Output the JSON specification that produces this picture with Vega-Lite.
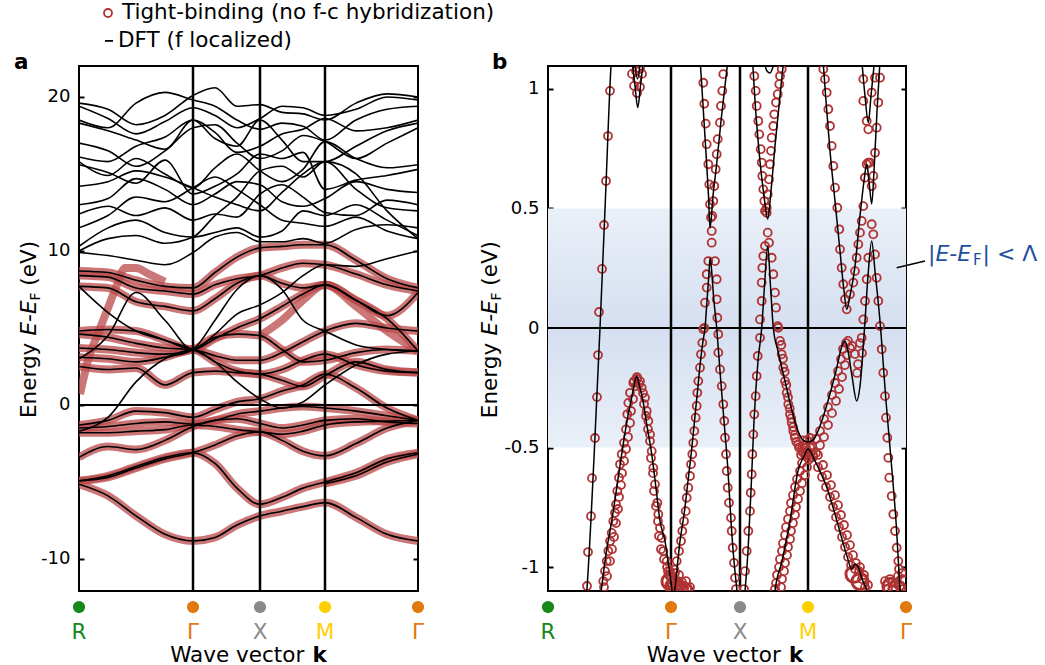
{
"$schema":"https://vega.github.io/schema/vega-lite/v6.json",
"padding":{"left":13,"top":1,"right":0,"bottom":0},
"bounds":"flush",
"spacing":130,
"config":{"font":"DejaVu Sans","view":{"stroke":"black","strokeWidth":2},"axis":{"domain":false,"grid":false,"tickColor":"black","tickWidth":2,"tickSize":-5,"labelFontSize":18,"labelColor":"black","labelPadding":14}},
"datasets":{
"symA":[{"x":0,"lab":"R"},{"x":114,"lab":"Γ"},{"x":181,"lab":"X"},{"x":246,"lab":"M"},{"x":339,"lab":"Γ"}],
"symB":[{"x":0,"lab":"R"},{"x":123,"lab":"Γ"},{"x":192,"lab":"X"},{"x":260,"lab":"M"},{"x":358,"lab":"Γ"}],
"bandsA":[
{"b":"u1","t":0,"x":0,"e":19.6},{"b":"u1","t":0,"x":29,"e":19.2},{"b":"u1","t":0,"x":57,"e":18.2},{"b":"u1","t":0,"x":86,"e":18.8},{"b":"u1","t":0,"x":114,"e":20.1},{"b":"u1","t":0,"x":136,"e":20.6},{"b":"u1","t":0,"x":158,"e":19.4},{"b":"u1","t":0,"x":181,"e":19.5},{"b":"u1","t":0,"x":203,"e":19.0},{"b":"u1","t":0,"x":224,"e":18.9},{"b":"u1","t":0,"x":246,"e":18.5},{"b":"u1","t":0,"x":277,"e":19.6},{"b":"u1","t":0,"x":308,"e":20.2},{"b":"u1","t":0,"x":339,"e":20.0},
{"b":"u2","t":0,"x":0,"e":19.4},{"b":"u2","t":0,"x":29,"e":18.6},{"b":"u2","t":0,"x":57,"e":17.6},{"b":"u2","t":0,"x":86,"e":18.4},{"b":"u2","t":0,"x":114,"e":19.3},{"b":"u2","t":0,"x":136,"e":18.8},{"b":"u2","t":0,"x":158,"e":18.0},{"b":"u2","t":0,"x":181,"e":18.6},{"b":"u2","t":0,"x":203,"e":19.4},{"b":"u2","t":0,"x":224,"e":19.3},{"b":"u2","t":0,"x":246,"e":18.8},{"b":"u2","t":0,"x":277,"e":19.2},{"b":"u2","t":0,"x":308,"e":20.0},{"b":"u2","t":0,"x":339,"e":19.8},
{"b":"u3","t":0,"x":0,"e":18.5},{"b":"u3","t":0,"x":29,"e":18.0},{"b":"u3","t":0,"x":57,"e":19.6},{"b":"u3","t":0,"x":86,"e":20.3},{"b":"u3","t":0,"x":114,"e":19.8},{"b":"u3","t":0,"x":136,"e":19.4},{"b":"u3","t":0,"x":158,"e":18.5},{"b":"u3","t":0,"x":181,"e":17.9},{"b":"u3","t":0,"x":203,"e":18.3},{"b":"u3","t":0,"x":224,"e":18.1},{"b":"u3","t":0,"x":246,"e":17.2},{"b":"u3","t":0,"x":277,"e":18.5},{"b":"u3","t":0,"x":308,"e":19.2},{"b":"u3","t":0,"x":339,"e":19.4},
{"b":"u4","t":0,"x":0,"e":18.3},{"b":"u4","t":0,"x":29,"e":17.8},{"b":"u4","t":0,"x":57,"e":17.2},{"b":"u4","t":0,"x":86,"e":16.6},{"b":"u4","t":0,"x":114,"e":18.5},{"b":"u4","t":0,"x":136,"e":17.7},{"b":"u4","t":0,"x":158,"e":16.4},{"b":"u4","t":0,"x":181,"e":16.8},{"b":"u4","t":0,"x":203,"e":17.6},{"b":"u4","t":0,"x":224,"e":17.9},{"b":"u4","t":0,"x":246,"e":18.6},{"b":"u4","t":0,"x":277,"e":17.8},{"b":"u4","t":0,"x":308,"e":18.0},{"b":"u4","t":0,"x":339,"e":18.5},
{"b":"u5","t":0,"x":0,"e":16.1},{"b":"u5","t":0,"x":29,"e":15.8},{"b":"u5","t":0,"x":57,"e":16.8},{"b":"u5","t":0,"x":86,"e":17.4},{"b":"u5","t":0,"x":114,"e":18.5},{"b":"u5","t":0,"x":136,"e":17.3},{"b":"u5","t":0,"x":158,"e":16.8},{"b":"u5","t":0,"x":181,"e":18.5},{"b":"u5","t":0,"x":203,"e":17.2},{"b":"u5","t":0,"x":224,"e":15.8},{"b":"u5","t":0,"x":246,"e":15.8},{"b":"u5","t":0,"x":277,"e":16.8},{"b":"u5","t":0,"x":308,"e":17.8},{"b":"u5","t":0,"x":339,"e":18.3},
{"b":"u6","t":0,"x":0,"e":15.8},{"b":"u6","t":0,"x":29,"e":14.9},{"b":"u6","t":0,"x":57,"e":16.0},{"b":"u6","t":0,"x":86,"e":15.0},{"b":"u6","t":0,"x":114,"e":14.1},{"b":"u6","t":0,"x":136,"e":15.4},{"b":"u6","t":0,"x":158,"e":16.3},{"b":"u6","t":0,"x":181,"e":15.2},{"b":"u6","t":0,"x":203,"e":14.5},{"b":"u6","t":0,"x":224,"e":15.3},{"b":"u6","t":0,"x":246,"e":17.1},{"b":"u6","t":0,"x":277,"e":16.0},{"b":"u6","t":0,"x":308,"e":15.4},{"b":"u6","t":0,"x":339,"e":15.6},
{"b":"u7","t":0,"x":0,"e":15.6},{"b":"u7","t":0,"x":29,"e":15.1},{"b":"u7","t":0,"x":57,"e":14.4},{"b":"u7","t":0,"x":86,"e":15.9},{"b":"u7","t":0,"x":114,"e":13.7},{"b":"u7","t":0,"x":136,"e":14.2},{"b":"u7","t":0,"x":158,"e":15.0},{"b":"u7","t":0,"x":181,"e":16.3},{"b":"u7","t":0,"x":203,"e":16.0},{"b":"u7","t":0,"x":224,"e":16.4},{"b":"u7","t":0,"x":246,"e":14.0},{"b":"u7","t":0,"x":277,"e":14.6},{"b":"u7","t":0,"x":308,"e":14.9},{"b":"u7","t":0,"x":339,"e":15.3},
{"b":"u8","t":0,"x":0,"e":13.0},{"b":"u8","t":0,"x":29,"e":13.4},{"b":"u8","t":0,"x":57,"e":14.7},{"b":"u8","t":0,"x":86,"e":14.0},{"b":"u8","t":0,"x":114,"e":13.0},{"b":"u8","t":0,"x":136,"e":13.7},{"b":"u8","t":0,"x":158,"e":14.5},{"b":"u8","t":0,"x":181,"e":14.3},{"b":"u8","t":0,"x":203,"e":13.2},{"b":"u8","t":0,"x":224,"e":12.9},{"b":"u8","t":0,"x":246,"e":13.4},{"b":"u8","t":0,"x":277,"e":14.5},{"b":"u8","t":0,"x":308,"e":14.0},{"b":"u8","t":0,"x":339,"e":13.8},
{"b":"u9","t":0,"x":0,"e":12.4},{"b":"u9","t":0,"x":29,"e":12.9},{"b":"u9","t":0,"x":57,"e":12.3},{"b":"u9","t":0,"x":86,"e":12.8},{"b":"u9","t":0,"x":114,"e":12.0},{"b":"u9","t":0,"x":136,"e":12.4},{"b":"u9","t":0,"x":158,"e":12.2},{"b":"u9","t":0,"x":181,"e":13.7},{"b":"u9","t":0,"x":203,"e":14.3},{"b":"u9","t":0,"x":224,"e":13.5},{"b":"u9","t":0,"x":246,"e":12.5},{"b":"u9","t":0,"x":277,"e":12.3},{"b":"u9","t":0,"x":308,"e":13.3},{"b":"u9","t":0,"x":339,"e":13.0},
{"b":"u10","t":0,"x":0,"e":10.3},{"b":"u10","t":0,"x":29,"e":11.5},{"b":"u10","t":0,"x":57,"e":12.0},{"b":"u10","t":0,"x":86,"e":11.2},{"b":"u10","t":0,"x":114,"e":10.9},{"b":"u10","t":0,"x":136,"e":11.2},{"b":"u10","t":0,"x":158,"e":11.5},{"b":"u10","t":0,"x":181,"e":10.9},{"b":"u10","t":0,"x":203,"e":11.3},{"b":"u10","t":0,"x":224,"e":12.6},{"b":"u10","t":0,"x":246,"e":12.3},{"b":"u10","t":0,"x":277,"e":13.0},{"b":"u10","t":0,"x":308,"e":12.0},{"b":"u10","t":0,"x":339,"e":11.0},
{"b":"u11","t":0,"x":0,"e":10.0},{"b":"u11","t":0,"x":29,"e":10.8},{"b":"u11","t":0,"x":57,"e":11.0},{"b":"u11","t":0,"x":86,"e":10.5},{"b":"u11","t":0,"x":114,"e":10.9},{"b":"u11","t":0,"x":136,"e":12.3},{"b":"u11","t":0,"x":158,"e":13.5},{"b":"u11","t":0,"x":181,"e":15.2},{"b":"u11","t":0,"x":203,"e":15.5},{"b":"u11","t":0,"x":224,"e":14.8},{"b":"u11","t":0,"x":246,"e":15.8},{"b":"u11","t":0,"x":277,"e":15.0},{"b":"u11","t":0,"x":308,"e":12.6},{"b":"u11","t":0,"x":339,"e":10.8},
{"b":"u12","t":0,"x":0,"e":9.9},{"b":"u12","t":0,"x":29,"e":9.7},{"b":"u12","t":0,"x":57,"e":9.4},{"b":"u12","t":0,"x":86,"e":9.1},{"b":"u12","t":0,"x":114,"e":9.9},{"b":"u12","t":0,"x":136,"e":10.9},{"b":"u12","t":0,"x":158,"e":11.2},{"b":"u12","t":0,"x":181,"e":10.6},{"b":"u12","t":0,"x":203,"e":10.6},{"b":"u12","t":0,"x":224,"e":10.8},{"b":"u12","t":0,"x":246,"e":10.5},{"b":"u12","t":0,"x":277,"e":11.4},{"b":"u12","t":0,"x":308,"e":11.7},{"b":"u12","t":0,"x":339,"e":11.5},
{"b":"u13","t":0,"x":0,"e":17.0},{"b":"u13","t":0,"x":29,"e":16.5},{"b":"u13","t":0,"x":57,"e":15.5},{"b":"u13","t":0,"x":86,"e":16.5},{"b":"u13","t":0,"x":114,"e":18.0},{"b":"u13","t":0,"x":136,"e":18.2},{"b":"u13","t":0,"x":158,"e":17.0},{"b":"u13","t":0,"x":181,"e":16.0},{"b":"u13","t":0,"x":203,"e":16.5},{"b":"u13","t":0,"x":224,"e":17.5},{"b":"u13","t":0,"x":246,"e":17.1},{"b":"u13","t":0,"x":277,"e":16.0},{"b":"u13","t":0,"x":308,"e":17.0},{"b":"u13","t":0,"x":339,"e":18.0},
{"b":"u14","t":0,"x":0,"e":14.2},{"b":"u14","t":0,"x":29,"e":14.5},{"b":"u14","t":0,"x":57,"e":15.2},{"b":"u14","t":0,"x":86,"e":14.8},{"b":"u14","t":0,"x":114,"e":14.1},{"b":"u14","t":0,"x":136,"e":13.5},{"b":"u14","t":0,"x":158,"e":13.0},{"b":"u14","t":0,"x":181,"e":12.6},{"b":"u14","t":0,"x":203,"e":13.8},{"b":"u14","t":0,"x":224,"e":15.0},{"b":"u14","t":0,"x":246,"e":15.8},{"b":"u14","t":0,"x":277,"e":14.0},{"b":"u14","t":0,"x":308,"e":12.8},{"b":"u14","t":0,"x":339,"e":12.6},
{"b":"u15","t":0,"x":0,"e":11.5},{"b":"u15","t":0,"x":29,"e":12.3},{"b":"u15","t":0,"x":57,"e":13.5},{"b":"u15","t":0,"x":86,"e":13.2},{"b":"u15","t":0,"x":114,"e":14.1},{"b":"u15","t":0,"x":136,"e":14.8},{"b":"u15","t":0,"x":158,"e":14.0},{"b":"u15","t":0,"x":181,"e":13.0},{"b":"u15","t":0,"x":203,"e":12.0},{"b":"u15","t":0,"x":224,"e":11.8},{"b":"u15","t":0,"x":246,"e":11.6},{"b":"u15","t":0,"x":277,"e":12.2},{"b":"u15","t":0,"x":308,"e":11.3},{"b":"u15","t":0,"x":339,"e":10.8},
{"b":"m1","t":1,"x":0,"e":8.7},{"b":"m1","t":1,"x":29,"e":8.6},{"b":"m1","t":1,"x":57,"e":8.1},{"b":"m1","t":1,"x":86,"e":7.7},{"b":"m1","t":1,"x":114,"e":7.6},{"b":"m1","t":1,"x":136,"e":8.6},{"b":"m1","t":1,"x":158,"e":9.6},{"b":"m1","t":1,"x":181,"e":10.2},{"b":"m1","t":1,"x":203,"e":10.3},{"b":"m1","t":1,"x":224,"e":10.4},{"b":"m1","t":1,"x":246,"e":10.4},{"b":"m1","t":1,"x":277,"e":9.4},{"b":"m1","t":1,"x":308,"e":8.2},{"b":"m1","t":1,"x":339,"e":7.6},
{"b":"m2","t":1,"x":0,"e":8.4},{"b":"m2","t":1,"x":29,"e":8.3},{"b":"m2","t":1,"x":57,"e":7.6},{"b":"m2","t":1,"x":86,"e":7.4},{"b":"m2","t":1,"x":114,"e":7.2},{"b":"m2","t":1,"x":136,"e":7.8},{"b":"m2","t":1,"x":158,"e":8.2},{"b":"m2","t":1,"x":181,"e":8.4},{"b":"m2","t":1,"x":203,"e":8.9},{"b":"m2","t":1,"x":224,"e":9.2},{"b":"m2","t":1,"x":246,"e":9.1},{"b":"m2","t":1,"x":277,"e":8.5},{"b":"m2","t":1,"x":308,"e":7.8},{"b":"m2","t":1,"x":339,"e":7.4},
{"b":"m3","t":1,"x":0,"e":7.7},{"b":"m3","t":1,"x":29,"e":7.6},{"b":"m3","t":1,"x":57,"e":6.7},{"b":"m3","t":1,"x":86,"e":6.4},{"b":"m3","t":1,"x":114,"e":6.1},{"b":"m3","t":1,"x":136,"e":6.9},{"b":"m3","t":1,"x":158,"e":7.9},{"b":"m3","t":1,"x":181,"e":8.4},{"b":"m3","t":1,"x":203,"e":7.9},{"b":"m3","t":1,"x":224,"e":7.6},{"b":"m3","t":1,"x":246,"e":7.8},{"b":"m3","t":1,"x":277,"e":6.8},{"b":"m3","t":1,"x":308,"e":5.8},{"b":"m3","t":1,"x":339,"e":7.3},
{"b":"m4","t":0,"x":0,"e":3.0},{"b":"m4","t":0,"x":29,"e":4.5},{"b":"m4","t":0,"x":57,"e":7.3},{"b":"m4","t":0,"x":86,"e":5.5},{"b":"m4","t":0,"x":114,"e":3.6},{"b":"m4","t":0,"x":136,"e":4.6},{"b":"m4","t":0,"x":158,"e":5.9},{"b":"m4","t":0,"x":181,"e":6.5},{"b":"m4","t":0,"x":203,"e":7.3},{"b":"m4","t":0,"x":224,"e":8.4},{"b":"m4","t":0,"x":246,"e":9.1},{"b":"m4","t":0,"x":277,"e":9.0},{"b":"m4","t":0,"x":308,"e":9.5},{"b":"m4","t":0,"x":339,"e":10.0},
{"b":"m5","t":1,"x":0,"e":4.8},{"b":"m5","t":1,"x":29,"e":4.9},{"b":"m5","t":1,"x":57,"e":4.8},{"b":"m5","t":1,"x":86,"e":4.2},{"b":"m5","t":1,"x":114,"e":3.6},{"b":"m5","t":1,"x":136,"e":4.3},{"b":"m5","t":1,"x":158,"e":5.0},{"b":"m5","t":1,"x":181,"e":5.6},{"b":"m5","t":1,"x":203,"e":6.4},{"b":"m5","t":1,"x":224,"e":7.2},{"b":"m5","t":1,"x":246,"e":7.8},{"b":"m5","t":1,"x":277,"e":6.8},{"b":"m5","t":1,"x":308,"e":5.6},{"b":"m5","t":1,"x":339,"e":3.5},
{"b":"m6","t":1,"x":0,"e":4.6},{"b":"m6","t":1,"x":29,"e":4.4},{"b":"m6","t":1,"x":57,"e":4.0},{"b":"m6","t":1,"x":86,"e":3.7},{"b":"m6","t":1,"x":114,"e":3.6},{"b":"m6","t":1,"x":136,"e":3.2},{"b":"m6","t":1,"x":158,"e":2.9},{"b":"m6","t":1,"x":181,"e":2.9},{"b":"m6","t":1,"x":203,"e":3.4},{"b":"m6","t":1,"x":224,"e":4.1},{"b":"m6","t":1,"x":246,"e":4.8},{"b":"m6","t":1,"x":277,"e":5.3},{"b":"m6","t":1,"x":308,"e":5.0},{"b":"m6","t":1,"x":339,"e":4.8},
{"b":"m7","t":1,"x":0,"e":3.7},{"b":"m7","t":1,"x":29,"e":3.6},{"b":"m7","t":1,"x":57,"e":3.4},{"b":"m7","t":1,"x":86,"e":3.3},{"b":"m7","t":1,"x":114,"e":3.6},{"b":"m7","t":1,"x":136,"e":4.4},{"b":"m7","t":1,"x":158,"e":4.6},{"b":"m7","t":1,"x":181,"e":4.5},{"b":"m7","t":1,"x":203,"e":3.6},{"b":"m7","t":1,"x":224,"e":2.8},{"b":"m7","t":1,"x":246,"e":2.9},{"b":"m7","t":1,"x":277,"e":3.4},{"b":"m7","t":1,"x":308,"e":3.6},{"b":"m7","t":1,"x":339,"e":3.5},
{"b":"m8","t":1,"x":0,"e":3.1},{"b":"m8","t":1,"x":29,"e":3.0},{"b":"m8","t":1,"x":57,"e":2.8},{"b":"m8","t":1,"x":86,"e":3.1},{"b":"m8","t":1,"x":114,"e":3.6},{"b":"m8","t":1,"x":136,"e":2.8},{"b":"m8","t":1,"x":158,"e":2.2},{"b":"m8","t":1,"x":181,"e":2.0},{"b":"m8","t":1,"x":203,"e":2.3},{"b":"m8","t":1,"x":224,"e":2.9},{"b":"m8","t":1,"x":246,"e":3.3},{"b":"m8","t":1,"x":277,"e":2.6},{"b":"m8","t":1,"x":308,"e":2.2},{"b":"m8","t":1,"x":339,"e":2.1},
{"b":"m9","t":1,"x":0,"e":2.5},{"b":"m9","t":1,"x":29,"e":2.3},{"b":"m9","t":1,"x":57,"e":2.4},{"b":"m9","t":1,"x":86,"e":1.3},{"b":"m9","t":1,"x":114,"e":2.1},{"b":"m9","t":1,"x":136,"e":2.2},{"b":"m9","t":1,"x":158,"e":2.1},{"b":"m9","t":1,"x":181,"e":2.0},{"b":"m9","t":1,"x":203,"e":1.6},{"b":"m9","t":1,"x":224,"e":1.2},{"b":"m9","t":1,"x":246,"e":1.9},{"b":"m9","t":1,"x":277,"e":2.8},{"b":"m9","t":1,"x":308,"e":2.3},{"b":"m9","t":1,"x":339,"e":2.1},
{"b":"m10","t":1,"x":0,"e":-1.3},{"b":"m10","t":1,"x":29,"e":-1.0},{"b":"m10","t":1,"x":57,"e":-0.4},{"b":"m10","t":1,"x":86,"e":-0.5},{"b":"m10","t":1,"x":114,"e":-0.8},{"b":"m10","t":1,"x":136,"e":-0.3},{"b":"m10","t":1,"x":158,"e":0.2},{"b":"m10","t":1,"x":181,"e":0.4},{"b":"m10","t":1,"x":203,"e":0.9},{"b":"m10","t":1,"x":224,"e":1.3},{"b":"m10","t":1,"x":246,"e":2.0},{"b":"m10","t":1,"x":277,"e":1.1},{"b":"m10","t":1,"x":308,"e":-0.2},{"b":"m10","t":1,"x":339,"e":-1.0},
{"b":"m11","t":1,"x":0,"e":-1.5},{"b":"m11","t":1,"x":29,"e":-1.4},{"b":"m11","t":1,"x":57,"e":-1.2},{"b":"m11","t":1,"x":86,"e":-1.1},{"b":"m11","t":1,"x":114,"e":-1.25},{"b":"m11","t":1,"x":136,"e":-1.0},{"b":"m11","t":1,"x":158,"e":-0.6},{"b":"m11","t":1,"x":181,"e":-0.4},{"b":"m11","t":1,"x":203,"e":-0.2},{"b":"m11","t":1,"x":224,"e":-0.1},{"b":"m11","t":1,"x":246,"e":-0.2},{"b":"m11","t":1,"x":277,"e":-0.4},{"b":"m11","t":1,"x":308,"e":-0.7},{"b":"m11","t":1,"x":339,"e":-1.0},
{"b":"m12","t":0,"x":0,"e":-1.7},{"b":"m12","t":0,"x":29,"e":-0.8},{"b":"m12","t":0,"x":57,"e":1.5},{"b":"m12","t":0,"x":86,"e":3.0},{"b":"m12","t":0,"x":114,"e":3.6},{"b":"m12","t":0,"x":136,"e":5.5},{"b":"m12","t":0,"x":158,"e":7.5},{"b":"m12","t":0,"x":181,"e":8.4},{"b":"m12","t":0,"x":203,"e":7.5},{"b":"m12","t":0,"x":224,"e":5.5},{"b":"m12","t":0,"x":246,"e":4.8},{"b":"m12","t":0,"x":277,"e":3.9},{"b":"m12","t":0,"x":308,"e":3.6},{"b":"m12","t":0,"x":339,"e":3.5},
{"b":"m13","t":0,"x":0,"e":7.7},{"b":"m13","t":0,"x":29,"e":6.0},{"b":"m13","t":0,"x":57,"e":4.8},{"b":"m13","t":0,"x":86,"e":4.2},{"b":"m13","t":0,"x":114,"e":3.6},{"b":"m13","t":0,"x":136,"e":2.8},{"b":"m13","t":0,"x":158,"e":1.5},{"b":"m13","t":0,"x":181,"e":0.4},{"b":"m13","t":0,"x":203,"e":-0.2},{"b":"m13","t":0,"x":224,"e":0.2},{"b":"m13","t":0,"x":246,"e":1.3},{"b":"m13","t":0,"x":277,"e":2.6},{"b":"m13","t":0,"x":308,"e":3.3},{"b":"m13","t":0,"x":339,"e":3.5},
{"b":"l1","t":1,"x":0,"e":-1.8},{"b":"l1","t":1,"x":29,"e":-1.8},{"b":"l1","t":1,"x":57,"e":-1.7},{"b":"l1","t":1,"x":86,"e":-1.6},{"b":"l1","t":1,"x":114,"e":-1.3},{"b":"l1","t":1,"x":136,"e":-1.4},{"b":"l1","t":1,"x":158,"e":-1.6},{"b":"l1","t":1,"x":181,"e":-1.75},{"b":"l1","t":1,"x":203,"e":-1.9},{"b":"l1","t":1,"x":224,"e":-1.7},{"b":"l1","t":1,"x":246,"e":-1.3},{"b":"l1","t":1,"x":277,"e":-1.1},{"b":"l1","t":1,"x":308,"e":-1.05},{"b":"l1","t":1,"x":339,"e":-1.0},
{"b":"l2","t":1,"x":0,"e":-3.4},{"b":"l2","t":1,"x":29,"e":-2.7},{"b":"l2","t":1,"x":57,"e":-2.9},{"b":"l2","t":1,"x":86,"e":-2.3},{"b":"l2","t":1,"x":114,"e":-1.4},{"b":"l2","t":1,"x":136,"e":-1.0},{"b":"l2","t":1,"x":158,"e":-0.9},{"b":"l2","t":1,"x":181,"e":-1.2},{"b":"l2","t":1,"x":203,"e":-1.5},{"b":"l2","t":1,"x":224,"e":-1.3},{"b":"l2","t":1,"x":246,"e":-1.0},{"b":"l2","t":1,"x":277,"e":-0.9},{"b":"l2","t":1,"x":308,"e":-1.1},{"b":"l2","t":1,"x":339,"e":-1.2},
{"b":"l3","t":1,"x":0,"e":-4.93},{"b":"l3","t":1,"x":29,"e":-4.7},{"b":"l3","t":1,"x":57,"e":-4.1},{"b":"l3","t":1,"x":86,"e":-3.5},{"b":"l3","t":1,"x":114,"e":-3.1},{"b":"l3","t":1,"x":136,"e":-2.6},{"b":"l3","t":1,"x":158,"e":-2.0},{"b":"l3","t":1,"x":181,"e":-1.75},{"b":"l3","t":1,"x":203,"e":-2.3},{"b":"l3","t":1,"x":224,"e":-3.0},{"b":"l3","t":1,"x":246,"e":-3.3},{"b":"l3","t":1,"x":277,"e":-2.5},{"b":"l3","t":1,"x":308,"e":-1.5},{"b":"l3","t":1,"x":339,"e":-1.0},
{"b":"l4","t":1,"x":0,"e":-4.93},{"b":"l4","t":1,"x":29,"e":-4.6},{"b":"l4","t":1,"x":57,"e":-4.0},{"b":"l4","t":1,"x":86,"e":-3.4},{"b":"l4","t":1,"x":114,"e":-3.1},{"b":"l4","t":1,"x":136,"e":-3.8},{"b":"l4","t":1,"x":158,"e":-5.4},{"b":"l4","t":1,"x":181,"e":-6.45},{"b":"l4","t":1,"x":203,"e":-6.0},{"b":"l4","t":1,"x":224,"e":-5.4},{"b":"l4","t":1,"x":246,"e":-5.0},{"b":"l4","t":1,"x":277,"e":-4.4},{"b":"l4","t":1,"x":308,"e":-3.5},{"b":"l4","t":1,"x":339,"e":-3.1},
{"b":"l5","t":1,"x":0,"e":-5.15},{"b":"l5","t":1,"x":29,"e":-5.9},{"b":"l5","t":1,"x":57,"e":-7.2},{"b":"l5","t":1,"x":86,"e":-8.4},{"b":"l5","t":1,"x":114,"e":-8.83},{"b":"l5","t":1,"x":136,"e":-8.6},{"b":"l5","t":1,"x":158,"e":-7.8},{"b":"l5","t":1,"x":181,"e":-7.2},{"b":"l5","t":1,"x":203,"e":-6.9},{"b":"l5","t":1,"x":224,"e":-6.6},{"b":"l5","t":1,"x":246,"e":-6.34},{"b":"l5","t":1,"x":277,"e":-7.3},{"b":"l5","t":1,"x":308,"e":-8.4},{"b":"l5","t":1,"x":339,"e":-8.83},
{"b":"l6","t":1,"x":246,"e":-5.1},{"b":"l6","t":1,"x":277,"e":-4.6},{"b":"l6","t":1,"x":308,"e":-3.7},{"b":"l6","t":1,"x":339,"e":-3.2},
{"b":"r1","t":2,"x":1,"e":0.7},{"b":"r1","t":2,"x":9,"e":2.9},{"b":"r1","t":2,"x":20,"e":4.8},{"b":"r1","t":2,"x":29,"e":6.3},{"b":"r1","t":2,"x":38,"e":7.8},{"b":"r1","t":2,"x":46,"e":8.9},{"b":"r1","t":2,"x":57,"e":8.9},{"b":"r1","t":2,"x":70,"e":8.5},{"b":"r1","t":2,"x":86,"e":8.0},
{"b":"r2","t":2,"x":181,"e":4.5},{"b":"r2","t":2,"x":203,"e":5.5},{"b":"r2","t":2,"x":224,"e":6.8},{"b":"r2","t":2,"x":246,"e":7.8},{"b":"r2","t":2,"x":277,"e":6.4},{"b":"r2","t":2,"x":308,"e":4.8},{"b":"r2","t":2,"x":339,"e":3.5}
],
"linesB":[
{"b":"b1","x":64,"e":1.159},{"b":"b1","x":63,"e":1.096},{"b":"b1","x":57.5,"e":0.548},{"b":"b1","x":52,"e":0},{"b":"b1","x":46,"e":-0.544},{"b":"b1","x":39,"e":-1.088},{"b":"b1","x":38,"e":-1.142},
{"b":"b2","x":52,"e":-1.142},{"b":"b2","x":58,"e":-0.946},{"b":"b2","x":63.7,"e":-0.808},{"b":"b2","x":68.7,"e":-0.669},{"b":"b2","x":73.7,"e":-0.527},{"b":"b2","x":79,"e":-0.389},{"b":"b2","x":83,"e":-0.305},{"b":"b2","x":86,"e":-0.243},{"b":"b2","x":88.7,"e":-0.201},{"b":"b2","x":91.5,"e":-0.243},{"b":"b2","x":95,"e":-0.305},{"b":"b2","x":99,"e":-0.41},{"b":"b2","x":103.7,"e":-0.527},{"b":"b2","x":108,"e":-0.669},{"b":"b2","x":112,"e":-0.808},{"b":"b2","x":117,"e":-0.891},{"b":"b2","x":120,"e":-0.975},{"b":"b2","x":123.7,"e":-1.088},{"b":"b2","x":125,"e":-1.142},
{"b":"b3","x":126,"e":-1.121},{"b":"b3","x":127,"e":-1.088},{"b":"b3","x":132,"e":-0.891},{"b":"b3","x":136.5,"e":-0.766},{"b":"b3","x":140,"e":-0.64},{"b":"b3","x":143.5,"e":-0.515},{"b":"b3","x":146.5,"e":-0.389},{"b":"b3","x":149.5,"e":-0.264},{"b":"b3","x":152.5,"e":-0.138},{"b":"b3","x":155,"e":-0.054},{"b":"b3","x":157,"e":0},{"b":"b3","x":159,"e":0.113},{"b":"b3","x":161,"e":0.23},{"b":"b3","x":162,"e":0.293},{"b":"b3","x":163.5,"e":0.247},{"b":"b3","x":165.5,"e":0.134},{"b":"b3","x":168.7,"e":0},{"b":"b3","x":172,"e":-0.18},{"b":"b3","x":176,"e":-0.389},{"b":"b3","x":180,"e":-0.598},{"b":"b3","x":183,"e":-0.808},{"b":"b3","x":186,"e":-0.975},{"b":"b3","x":189,"e":-1.1},{"b":"b3","x":190,"e":-1.142},
{"b":"b4","x":151.5,"e":1.159},{"b":"b4","x":153.5,"e":1.033},{"b":"b4","x":156,"e":0.866},{"b":"b4","x":158.5,"e":0.699},{"b":"b4","x":160.5,"e":0.552},{"b":"b4","x":162,"e":0.418},{"b":"b4","x":165,"e":0.552},{"b":"b4","x":169,"e":0.699},{"b":"b4","x":173,"e":0.866},{"b":"b4","x":177,"e":1.013},{"b":"b4","x":181,"e":1.159},
{"b":"b5","x":204,"e":1.159},{"b":"b5","x":207,"e":0.95},{"b":"b5","x":211,"e":0.741},{"b":"b5","x":216,"e":0.552},{"b":"b5","x":219.7,"e":0.456},{"b":"b5","x":223,"e":0.573},{"b":"b5","x":227,"e":0.762},{"b":"b5","x":231,"e":0.929},{"b":"b5","x":234,"e":1.054},{"b":"b5","x":237,"e":1.159},
{"b":"b5u","x":216,"e":1.117},{"b":"b5u","x":219,"e":1.075},{"b":"b5u","x":222,"e":1.067},{"b":"b5u","x":225,"e":1.092},{"b":"b5u","x":227,"e":1.117},
{"b":"b6","x":196,"e":-1.142},{"b":"b6","x":197,"e":-1.1},{"b":"b6","x":200,"e":-0.933},{"b":"b6","x":203,"e":-0.682},{"b":"b6","x":206,"e":-0.389},{"b":"b6","x":210,"e":-0.138},{"b":"b6","x":213.7,"e":0},{"b":"b6","x":216.5,"e":0.176},{"b":"b6","x":219.7,"e":0.343},{"b":"b6","x":222.5,"e":0.176},{"b":"b6","x":225.3,"e":0},{"b":"b6","x":230,"e":-0.096},{"b":"b6","x":237,"e":-0.222},{"b":"b6","x":244,"e":-0.347},{"b":"b6","x":250,"e":-0.431},{"b":"b6","x":255,"e":-0.469},{"b":"b6","x":260,"e":-0.477},{"b":"b6","x":265,"e":-0.469},{"b":"b6","x":272,"e":-0.41},{"b":"b6","x":280,"e":-0.305},{"b":"b6","x":288,"e":-0.18},{"b":"b6","x":294,"e":-0.075},{"b":"b6","x":297,"e":-0.054},{"b":"b6","x":300,"e":-0.096},{"b":"b6","x":304,"e":-0.201},{"b":"b6","x":308.7,"e":-0.305},{"b":"b6","x":312,"e":-0.243},{"b":"b6","x":317,"e":0.029},{"b":"b6","x":320,"e":0.218},{"b":"b6","x":323.7,"e":0.364},{"b":"b6","x":327,"e":0.238},{"b":"b6","x":332,"e":0.029},{"b":"b6","x":338,"e":-0.305},{"b":"b6","x":344,"e":-0.598},{"b":"b6","x":348,"e":-0.808},{"b":"b6","x":352,"e":-1.088},{"b":"b6","x":353,"e":-1.142},
{"b":"b7","x":226,"e":-1.142},{"b":"b7","x":227,"e":-1.1},{"b":"b7","x":234,"e":-0.975},{"b":"b7","x":242,"e":-0.808},{"b":"b7","x":250,"e":-0.598},{"b":"b7","x":256,"e":-0.536},{"b":"b7","x":260,"e":-0.506},{"b":"b7","x":267,"e":-0.556},{"b":"b7","x":274,"e":-0.619},{"b":"b7","x":279,"e":-0.669},{"b":"b7","x":284,"e":-0.736},{"b":"b7","x":289,"e":-0.808},{"b":"b7","x":294,"e":-0.883},{"b":"b7","x":299,"e":-0.954},{"b":"b7","x":303.7,"e":-1.008},{"b":"b7","x":307,"e":-0.987},{"b":"b7","x":310.3,"e":-1.0},{"b":"b7","x":314,"e":-1.05},{"b":"b7","x":318.7,"e":-1.1},{"b":"b7","x":320,"e":-1.142},
{"b":"b8","x":274,"e":1.159},{"b":"b8","x":275,"e":1.117},{"b":"b8","x":278,"e":0.95},{"b":"b8","x":282,"e":0.741},{"b":"b8","x":287,"e":0.531},{"b":"b8","x":292,"e":0.322},{"b":"b8","x":296,"e":0.155},{"b":"b8","x":298.7,"e":0.079},{"b":"b8","x":302,"e":0.134},{"b":"b8","x":307,"e":0.259},{"b":"b8","x":312,"e":0.469},{"b":"b8","x":316,"e":0.615},{"b":"b8","x":318.7,"e":0.686},{"b":"b8","x":321,"e":0.615},{"b":"b8","x":323.7,"e":0.519},{"b":"b8","x":326,"e":0.657},{"b":"b8","x":329,"e":0.908},{"b":"b8","x":332,"e":1.117},{"b":"b8","x":333,"e":1.18},
{"b":"b9","x":313,"e":1.159},{"b":"b9","x":317,"e":0.971},{"b":"b9","x":320.3,"e":0.859},{"b":"b9","x":323,"e":0.971},{"b":"b9","x":327.5,"e":1.159},
{"b":"b10","x":83,"e":1.159},{"b":"b10","x":87,"e":1.013},{"b":"b10","x":89.7,"e":0.922},{"b":"b10","x":92.5,"e":1.013},{"b":"b10","x":96.5,"e":1.159},
{"b":"b11","x":86,"e":1.138},{"b":"b11","x":89.5,"e":1.042},{"b":"b11","x":93,"e":1.138}
],
"blobB":[
{"x":126,"e":-1.08},{"x":131,"e":-1.09},{"x":136,"e":-1.1},{"x":122,"e":-1.06},
{"x":343,"e":-1.08},{"x":349,"e":-1.09},{"x":355,"e":-1.07},
{"x":306,"e":-1.03},{"x":312,"e":-1.06}
],
"circB":[
{"x":62,"e":0.992},{"x":60,"e":0.803},{"x":58,"e":0.615},{"x":56,"e":0.431},{"x":54,"e":0.247},{"x":51,"e":0.067},{"x":50,"e":-0.113},{"x":49,"e":-0.289},{"x":47,"e":-0.46},{"x":44,"e":-0.628},{"x":43,"e":-0.787},{"x":40,"e":-0.937},{"x":39,"e":-1.079},
{"x":84,"e":1.063},{"x":94,"e":1.063},{"x":89,"e":1.042},{"x":86,"e":1.013},{"x":92,"e":1.008},{"x":89,"e":0.983},{"x":88,"e":1.075},{"x":92,"e":1.084},
{"x":85.3,"e":-0.229},{"x":82,"e":-0.271},{"x":80.3,"e":-0.313},{"x":79.3,"e":-0.361},{"x":78,"e":-0.424},{"x":76,"e":-0.48},{"x":73.7,"e":-0.528},{"x":72,"e":-0.57},{"x":71,"e":-0.626},{"x":69.3,"e":-0.682},{"x":68,"e":-0.738},{"x":67,"e":-0.773},{"x":65.3,"e":-0.808},{"x":63.7,"e":-0.857},{"x":62,"e":-0.891},{"x":60.3,"e":-0.933},{"x":58.7,"e":-0.975},{"x":57,"e":-1.017},{"x":55.3,"e":-1.059},
{"x":88,"e":-0.243},{"x":85,"e":-0.297},{"x":83,"e":-0.347},{"x":82,"e":-0.397},{"x":80,"e":-0.456},{"x":78,"e":-0.506},{"x":76,"e":-0.556},{"x":74,"e":-0.607},{"x":73,"e":-0.657},{"x":71,"e":-0.707},{"x":70,"e":-0.757},{"x":68,"e":-0.816},{"x":66,"e":-0.874},{"x":64,"e":-0.925},{"x":62,"e":-0.975},{"x":59,"e":-1.038},{"x":56,"e":-1.084},
{"x":89,"e":-0.213},{"x":86,"e":-0.222},{"x":92,"e":-0.222},{"x":89,"e":-0.205},
{"x":93.7,"e":-0.25},{"x":97,"e":-0.292},{"x":98.7,"e":-0.347},{"x":100.3,"e":-0.389},{"x":102,"e":-0.445},{"x":103.7,"e":-0.515},{"x":105.3,"e":-0.585},{"x":107,"e":-0.654},{"x":109.3,"e":-0.731},{"x":110.3,"e":-0.779},{"x":112,"e":-0.836},{"x":113.7,"e":-0.878},{"x":115.3,"e":-0.933},{"x":118.7,"e":-0.975},{"x":122,"e":-1.017},
{"x":91,"e":-0.234},{"x":95,"e":-0.272},{"x":96,"e":-0.318},{"x":98,"e":-0.368},{"x":100,"e":-0.423},{"x":102,"e":-0.473},{"x":103,"e":-0.544},{"x":105,"e":-0.607},{"x":106,"e":-0.682},{"x":108,"e":-0.745},{"x":110,"e":-0.808},{"x":111,"e":-0.87},{"x":113,"e":-0.925},{"x":116,"e":-0.967},{"x":119,"e":-1.0},{"x":121,"e":-1.033},{"x":123,"e":-1.067},
{"x":124,"e":-1.079},{"x":128,"e":-1.079},{"x":132,"e":-1.079},{"x":136,"e":-1.088},{"x":140,"e":-1.092},{"x":126,"e":-1.05},{"x":130,"e":-1.059},{"x":134,"e":-1.063},{"x":122,"e":-1.038},{"x":120,"e":-1.017},{"x":127,"e":-1.025},{"x":131,"e":-1.033},{"x":138,"e":-1.059},{"x":142,"e":-1.084},
{"x":155.3,"e":-0.005},{"x":154.3,"e":-0.062},{"x":153,"e":-0.11},{"x":152,"e":-0.166},{"x":150.3,"e":-0.222},{"x":149.3,"e":-0.271},{"x":148.7,"e":-0.326},{"x":147.7,"e":-0.375},{"x":146.3,"e":-0.431},{"x":145.3,"e":-0.48},{"x":144.3,"e":-0.528},{"x":143,"e":-0.57},{"x":142,"e":-0.619},{"x":140.3,"e":-0.668},{"x":138.7,"e":-0.71},{"x":137.7,"e":-0.766},{"x":136,"e":-0.808},{"x":134.3,"e":-0.849},{"x":133,"e":-0.891},{"x":131,"e":-0.933},{"x":128.7,"e":-0.975},{"x":126.3,"e":-1.01},{"x":123.7,"e":-1.045},
{"x":155.3,"e":1.026},{"x":156.3,"e":0.938},{"x":157.7,"e":0.855},{"x":158.7,"e":0.769},{"x":160.3,"e":0.685},{"x":161.3,"e":0.601},{"x":162,"e":0.518},{"x":163,"e":0.462},
{"x":175.3,"e":1.062},{"x":174.3,"e":0.992},{"x":173,"e":0.929},{"x":172,"e":0.859},{"x":169.7,"e":0.79},{"x":168.7,"e":0.727},{"x":167.7,"e":0.664},{"x":166.3,"e":0.594},{"x":165.3,"e":0.531},{"x":164.3,"e":0.469},
{"x":163.7,"e":0.406},{"x":163.7,"e":0.357},
{"x":160.3,"e":0.28},{"x":167,"e":0.28},{"x":158.7,"e":0.225},{"x":168.7,"e":0.204},{"x":158.7,"e":0.169},{"x":168.7,"e":0.12},{"x":157,"e":0.106},{"x":169.3,"e":0.043},{"x":156.3,"e":0.001},
{"x":170.3,"e":-0.026},{"x":170.3,"e":-0.103},{"x":172,"e":-0.173},{"x":173.7,"e":-0.243},{"x":175.3,"e":-0.319},{"x":176.3,"e":-0.389},{"x":177,"e":-0.459},{"x":178,"e":-0.528},{"x":178.7,"e":-0.598},{"x":179.7,"e":-0.668},{"x":181,"e":-0.731},{"x":183,"e":-0.794},{"x":183.7,"e":-0.849},{"x":184.7,"e":-0.919},{"x":186,"e":-0.982},{"x":187,"e":-1.045},{"x":188,"e":-1.092},
{"x":206.3,"e":1.054},{"x":207.7,"e":0.992},{"x":208.7,"e":0.929},{"x":210.3,"e":0.866},{"x":211.3,"e":0.81},{"x":212.7,"e":0.748},{"x":213.7,"e":0.692},{"x":214.3,"e":0.636},{"x":215.3,"e":0.58},{"x":216.3,"e":0.531},{"x":217,"e":0.49},
{"x":233.7,"e":1.082},{"x":232,"e":1.054},{"x":231.3,"e":1.02},{"x":229.7,"e":0.978},{"x":228,"e":0.943},{"x":226.3,"e":0.894},{"x":225.3,"e":0.845},{"x":223.7,"e":0.796},{"x":223,"e":0.741},{"x":222,"e":0.685},{"x":221,"e":0.622},{"x":219.7,"e":0.559},{"x":218.7,"e":0.503},
{"x":218.7,"e":0.482},{"x":219.7,"e":0.399},{"x":217,"e":0.343},{"x":221,"e":0.357},
{"x":215.3,"e":0.301},{"x":223.7,"e":0.294},{"x":214.3,"e":0.252},{"x":225.3,"e":0.225},{"x":213.7,"e":0.19},{"x":227,"e":0.148},{"x":213.7,"e":0.113},{"x":228,"e":0.085},{"x":212,"e":0.036},{"x":229.7,"e":0.008},
{"x":212,"e":-0.041},{"x":209.7,"e":-0.117},{"x":208.7,"e":-0.201},{"x":207.7,"e":-0.285},{"x":206.3,"e":-0.361},{"x":205.3,"e":-0.445},{"x":204.3,"e":-0.528},{"x":203.7,"e":-0.612},{"x":202.7,"e":-0.689},{"x":202,"e":-0.766},{"x":200.3,"e":-0.849},{"x":198.7,"e":-0.933},{"x":197,"e":-1.017},{"x":196,"e":-1.092},
{"x":230.3,"e":0.001},{"x":232,"e":-0.054},{"x":233.7,"e":-0.11},{"x":235.3,"e":-0.166},{"x":237,"e":-0.222},{"x":238.7,"e":-0.271},{"x":240.3,"e":-0.319},{"x":242,"e":-0.361},{"x":243.7,"e":-0.396},{"x":245.3,"e":-0.431},{"x":247,"e":-0.459},{"x":250.3,"e":-0.487},{"x":253.7,"e":-0.508},
{"x":233.3,"e":-0.071},{"x":235,"e":-0.128},{"x":236.7,"e":-0.183},{"x":238.3,"e":-0.238},{"x":240,"e":-0.29},{"x":241.7,"e":-0.336},{"x":243.3,"e":-0.378},{"x":245,"e":-0.414},{"x":246.7,"e":-0.447},{"x":248.3,"e":-0.476},{"x":251,"e":-0.5},{"x":254.7,"e":-0.52},
{"x":256,"e":-0.49},{"x":258,"e":-0.5},{"x":260,"e":-0.52},{"x":262,"e":-0.5},{"x":264,"e":-0.49},{"x":259,"e":-0.47},{"x":262,"e":-0.46},{"x":257,"e":-0.53},{"x":261,"e":-0.55},{"x":265,"e":-0.53},{"x":253,"e":-0.53},{"x":255,"e":-0.47},
{"x":258,"e":-0.523},{"x":254,"e":-0.565},{"x":252,"e":-0.598},{"x":249,"e":-0.632},{"x":247,"e":-0.665},{"x":245,"e":-0.699},{"x":243,"e":-0.732},{"x":242,"e":-0.766},{"x":240,"e":-0.799},{"x":238,"e":-0.833},{"x":237,"e":-0.866},{"x":235,"e":-0.9},{"x":234,"e":-0.933},{"x":232,"e":-0.967},{"x":231,"e":-1.0},{"x":229,"e":-1.033},{"x":228,"e":-1.067},{"x":227,"e":-1.092},
{"x":262,"e":-0.54},{"x":259,"e":-0.582},{"x":257,"e":-0.615},{"x":254,"e":-0.649},{"x":252,"e":-0.682},{"x":250,"e":-0.715},{"x":248,"e":-0.749},{"x":247,"e":-0.782},{"x":245,"e":-0.816},{"x":243,"e":-0.849},{"x":242,"e":-0.883},{"x":240,"e":-0.916},{"x":239,"e":-0.95},{"x":237,"e":-0.983},{"x":236,"e":-1.017},{"x":234,"e":-1.05},{"x":233,"e":-1.084},
{"x":264,"e":-0.498},{"x":268,"e":-0.464},{"x":272,"e":-0.431},{"x":276,"e":-0.381},{"x":280,"e":-0.331},{"x":284,"e":-0.28},{"x":287,"e":-0.23},{"x":290,"e":-0.18},{"x":293,"e":-0.13},{"x":295,"e":-0.088},{"x":298,"e":-0.063},
{"x":268,"e":-0.523},{"x":272,"e":-0.49},{"x":276,"e":-0.456},{"x":280,"e":-0.406},{"x":284,"e":-0.356},{"x":288,"e":-0.305},{"x":291,"e":-0.255},{"x":294,"e":-0.205},{"x":297,"e":-0.155},{"x":299,"e":-0.113},{"x":302,"e":-0.084},
{"x":265,"e":-0.54},{"x":270,"e":-0.582},{"x":274,"e":-0.623},{"x":278,"e":-0.665},{"x":282,"e":-0.707},{"x":285,"e":-0.749},{"x":288,"e":-0.791},{"x":291,"e":-0.833},{"x":294,"e":-0.874},{"x":297,"e":-0.916},{"x":300,"e":-0.958},{"x":303,"e":-0.992},{"x":307,"e":-1.008},{"x":311,"e":-1.017},{"x":314,"e":-1.05},{"x":317,"e":-1.084},
{"x":270,"e":-0.531},{"x":275,"e":-0.573},{"x":279,"e":-0.615},{"x":283,"e":-0.657},{"x":287,"e":-0.699},{"x":290,"e":-0.741},{"x":293,"e":-0.782},{"x":296,"e":-0.824},{"x":299,"e":-0.866},{"x":302,"e":-0.908},{"x":305,"e":-0.95},{"x":308,"e":-0.983},{"x":312,"e":-1.0},{"x":316,"e":-1.033},{"x":320,"e":-1.075},
{"x":307,"e":-0.109},{"x":310,"e":-0.151},{"x":309,"e":-0.188},{"x":312,"e":-0.063},{"x":314,"e":-0.105},{"x":304,"e":-0.075},{"x":300,"e":-0.054},
{"x":275.3,"e":1.082},{"x":277,"e":1.041},{"x":278.7,"e":0.985},{"x":280.3,"e":0.915},{"x":282,"e":0.845},{"x":283.7,"e":0.762},{"x":285.3,"e":0.678},{"x":287,"e":0.587},{"x":289.3,"e":0.503},{"x":291.3,"e":0.413},{"x":292,"e":0.329},{"x":293.7,"e":0.252},{"x":295.3,"e":0.183},{"x":297,"e":0.12},{"x":298.7,"e":0.078},
{"x":302,"e":0.141},{"x":305.3,"e":0.19},{"x":307,"e":0.238},{"x":308.7,"e":0.294},{"x":310.3,"e":0.35},{"x":312,"e":0.399},{"x":313.7,"e":0.448},{"x":315.3,"e":0.51},{"x":317,"e":0.629},{"x":318.7,"e":0.685},{"x":320.3,"e":0.692},
{"x":315.3,"e":1.041},{"x":332,"e":1.047},{"x":327,"e":1.047},{"x":323.7,"e":0.985},{"x":330.3,"e":0.943},{"x":315.3,"e":0.95},{"x":318.7,"e":0.866},{"x":320.3,"e":0.831},{"x":328.7,"e":0.838},{"x":327,"e":0.733},{"x":322,"e":0.692},{"x":317,"e":0.629},{"x":325.3,"e":0.636},{"x":323.7,"e":0.594},
{"x":323.7,"e":0.434},{"x":325.3,"e":0.392},{"x":327,"e":0.308},{"x":320.3,"e":0.294},{"x":318.7,"e":0.204},{"x":317,"e":0.113},{"x":315.3,"e":0.036},{"x":313.7,"e":-0.041},{"x":328.7,"e":0.21},{"x":330.3,"e":0.113},{"x":332,"e":0.008},{"x":333.7,"e":-0.089},
{"x":335.3,"e":-0.187},{"x":337,"e":-0.285},{"x":338,"e":-0.375},{"x":339.3,"e":-0.459},{"x":340.3,"e":-0.543},{"x":341.3,"e":-0.626},{"x":343.7,"e":-0.703},{"x":345.3,"e":-0.779},{"x":347,"e":-0.849},{"x":348.7,"e":-0.919},{"x":350.3,"e":-0.975},
{"x":337,"e":-1.059},{"x":342,"e":-1.05},{"x":347,"e":-1.067},{"x":352,"e":-1.079},{"x":355,"e":-1.092},{"x":340,"e":-1.092},{"x":345,"e":-1.092},{"x":350,"e":-1.038},{"x":354,"e":-1.025},{"x":351,"e":-1.008}
]
},
"hconcat":[
{
"width":339,"height":525,
"resolve":{"axis":{"y":"independent"}},
"layer":[
{"data":{"name":"bandsA"},"transform":[{"filter":"datum.t>=1"}],
 "mark":{"type":"line","clip":true,"strokeWidth":8,"color":"#bb4a4a","opacity":0.75,"interpolate":"monotone"},
 "encoding":{"x":{"field":"x","type":"quantitative","scale":{"domain":[0,339],"nice":false,"zero":false},"axis":null},
  "y":{"field":"e","type":"quantitative","scale":{"domain":[-12.08,22.01],"nice":false,"zero":false},"axis":{"orient":"left","values":[-10,0,10,20],"labelExpr":"''+datum.value","title":null}},
  "detail":{"field":"b"}}},
{"data":{"name":"symA"},"transform":[{"filter":"datum.x>0 && datum.x<339"}],
 "mark":{"type":"rule","color":"black","strokeWidth":2.5},
 "encoding":{"x":{"field":"x","type":"quantitative","scale":{"domain":[0,339],"nice":false,"zero":false},"axis":null}}},
{"data":{"values":[{"e":0}]},
 "mark":{"type":"rule","color":"black","strokeWidth":2},
 "encoding":{"y":{"field":"e","type":"quantitative","scale":{"domain":[-12.08,22.01],"nice":false,"zero":false},"axis":{"orient":"right","values":[-10,0,10,20],"labels":false,"title":null}}}},
{"data":{"name":"bandsA"},"transform":[{"filter":"datum.t<=1"}],
 "mark":{"type":"line","clip":true,"strokeWidth":1.6,"color":"black","interpolate":"monotone"},
 "encoding":{"x":{"field":"x","type":"quantitative","scale":{"domain":[0,339],"nice":false,"zero":false},"axis":null},
  "y":{"field":"e","type":"quantitative","scale":{"domain":[-12.08,22.01],"nice":false,"zero":false},"axis":null},
  "detail":{"field":"b"}}},
{"data":{"name":"symA"},
 "mark":{"type":"point","shape":"circle","filled":true,"size":150,"opacity":1},
 "encoding":{"x":{"field":"x","type":"quantitative","scale":{"domain":[0,339],"nice":false,"zero":false},"axis":null},
  "y":{"datum":-13.12,"type":"quantitative","scale":{"domain":[-12.08,22.01],"nice":false,"zero":false},"axis":null},
  "color":{"field":"lab","type":"nominal","scale":{"domain":["R","Γ","X","M"],"range":["#16891a","#e0790e","#8a8a8a","#ffd000"]},"legend":null}}},
{"data":{"name":"symA"},
 "mark":{"type":"text","fontSize":21.5,"baseline":"middle","align":"center"},
 "encoding":{"x":{"field":"x","type":"quantitative","scale":{"domain":[0,339],"nice":false,"zero":false},"axis":null},
  "y":{"datum":-14.81,"type":"quantitative","scale":{"domain":[-12.08,22.01],"nice":false,"zero":false},"axis":null},
  "text":{"field":"lab"},
  "color":{"field":"lab","type":"nominal","scale":{"domain":["R","Γ","X","M"],"range":["#16891a","#e0790e","#8a8a8a","#f2c200"]},"legend":null}}},
{"data":{"values":[{"x":-49,"e":-0.844,"s":"Energy"},{"x":-49,"e":7.747,"s":"(eV)"}]},
 "mark":{"type":"text","angle":270,"align":"left","baseline":"middle","fontSize":21.5,"color":"black"},
 "encoding":{"x":{"field":"x","type":"quantitative","scale":{"domain":[0,339],"nice":false,"zero":false},"axis":null},
  "y":{"field":"e","type":"quantitative","scale":{"domain":[-12.08,22.01],"nice":false,"zero":false},"axis":null},"text":{"field":"s"}}},
{"data":{"values":[{"x":-49,"e":4.513,"s":"E-E"}]},
 "mark":{"type":"text","angle":270,"align":"left","baseline":"middle","fontSize":21.5,"fontStyle":"italic","color":"black"},
 "encoding":{"x":{"field":"x","type":"quantitative","scale":{"domain":[0,339],"nice":false,"zero":false},"axis":null},
  "y":{"field":"e","type":"quantitative","scale":{"domain":[-12.08,22.01],"nice":false,"zero":false},"axis":null},"text":{"field":"s"}}},
{"data":{"values":[{"x":-43.5,"e":6.779,"s":"F"}]},
 "mark":{"type":"text","angle":270,"align":"left","baseline":"middle","fontSize":14,"color":"black"},
 "encoding":{"x":{"field":"x","type":"quantitative","scale":{"domain":[0,339],"nice":false,"zero":false},"axis":null},
  "y":{"field":"e","type":"quantitative","scale":{"domain":[-12.08,22.01],"nice":false,"zero":false},"axis":null},"text":{"field":"s"}}},
{"data":{"values":[{"x":91.2,"e":-16.3,"s":"Wave vector"}]},
 "mark":{"type":"text","align":"left","baseline":"middle","fontSize":21.5,"color":"black"},
 "encoding":{"x":{"field":"x","type":"quantitative","scale":{"domain":[0,339],"nice":false,"zero":false},"axis":null},
  "y":{"field":"e","type":"quantitative","scale":{"domain":[-12.08,22.01],"nice":false,"zero":false},"axis":null},"text":{"field":"s"}}},
{"data":{"values":[{"x":233.4,"e":-16.3,"s":"k"},{"x":-65,"e":22.21,"s":"a"}]},
 "mark":{"type":"text","align":"left","baseline":"middle","fontSize":21.5,"fontWeight":"bold","color":"black"},
 "encoding":{"x":{"field":"x","type":"quantitative","scale":{"domain":[0,339],"nice":false,"zero":false},"axis":null},
  "y":{"field":"e","type":"quantitative","scale":{"domain":[-12.08,22.01],"nice":false,"zero":false},"axis":null},"text":{"field":"s"}}},
{"data":{"values":[{"x":29,"e":25.45}]},
 "mark":{"type":"point","shape":"circle","filled":false,"size":64,"strokeWidth":1.8,"color":"#b03333","opacity":1},
 "encoding":{"x":{"field":"x","type":"quantitative","scale":{"domain":[0,339],"nice":false,"zero":false},"axis":null},
  "y":{"field":"e","type":"quantitative","scale":{"domain":[-12.08,22.01],"nice":false,"zero":false},"axis":null}}},
{"data":{"values":[{"x":26,"x2":34,"e":23.64}]},
 "mark":{"type":"rule","color":"black","strokeWidth":1.8},
 "encoding":{"x":{"field":"x","type":"quantitative","scale":{"domain":[0,339],"nice":false,"zero":false},"axis":null},"x2":{"field":"x2"},
  "y":{"field":"e","type":"quantitative","scale":{"domain":[-12.08,22.01],"nice":false,"zero":false},"axis":null}}},
{"data":{"values":[{"x":43,"e":25.45,"s":"Tight-binding (no f-c hybridization)"},{"x":39,"e":23.64,"s":"DFT (f localized)"}]},
 "mark":{"type":"text","align":"left","baseline":"middle","fontSize":21.5,"color":"black"},
 "encoding":{"x":{"field":"x","type":"quantitative","scale":{"domain":[0,339],"nice":false,"zero":false},"axis":null},
  "y":{"field":"e","type":"quantitative","scale":{"domain":[-12.08,22.01],"nice":false,"zero":false},"axis":null},"text":{"field":"s"}}}
]
},
{
"width":358,"height":525,
"resolve":{"axis":{"y":"independent"}},
"layer":[
{"data":{"values":[{"lo":-0.5,"hi":0.5}]},
 "mark":{"type":"rect","color":{"gradient":"linear","x1":0,"y1":0,"x2":0,"y2":1,"stops":[{"offset":0,"color":"#eaf0f8"},{"offset":0.5,"color":"#d5dff0"},{"offset":1,"color":"#eaf0f8"}]}},
 "encoding":{"x":{"datum":0,"type":"quantitative","scale":{"domain":[0,358],"nice":false,"zero":false},"axis":null},"x2":{"datum":358},
  "y":{"field":"lo","type":"quantitative","scale":{"domain":[-1.1,1.096],"nice":false,"zero":false},"axis":{"orient":"left","values":[-1,-0.5,0,0.5,1],"labelExpr":"''+datum.value","title":null}},
  "y2":{"field":"hi"}}},
{"data":{"name":"symB"},"transform":[{"filter":"datum.x>0 && datum.x<358"}],
 "mark":{"type":"rule","color":"black","strokeWidth":2.5},
 "encoding":{"x":{"field":"x","type":"quantitative","scale":{"domain":[0,358],"nice":false,"zero":false},"axis":null}}},
{"data":{"values":[{"e":0}]},
 "mark":{"type":"rule","color":"black","strokeWidth":2},
 "encoding":{"y":{"field":"e","type":"quantitative","scale":{"domain":[-1.1,1.096],"nice":false,"zero":false},"axis":{"orient":"right","values":[-1,-0.5,0,0.5,1],"labels":false,"title":null}}}},
{"data":{"name":"blobB"},
 "mark":{"type":"point","shape":"circle","filled":false,"size":260,"strokeWidth":3,"color":"#b03333","opacity":1,"clip":true},
 "encoding":{"x":{"field":"x","type":"quantitative","scale":{"domain":[0,358],"nice":false,"zero":false},"axis":null},
  "y":{"field":"e","type":"quantitative","scale":{"domain":[-1.1,1.096],"nice":false,"zero":false},"axis":null}}},
{"data":{"name":"circB"},
 "mark":{"type":"point","shape":"circle","filled":false,"size":64,"strokeWidth":1.8,"color":"#b03333","opacity":1,"clip":true},
 "encoding":{"x":{"field":"x","type":"quantitative","scale":{"domain":[0,358],"nice":false,"zero":false},"axis":null},
  "y":{"field":"e","type":"quantitative","scale":{"domain":[-1.1,1.096],"nice":false,"zero":false},"axis":null}}},
{"data":{"name":"linesB"},
 "mark":{"type":"line","clip":true,"strokeWidth":1.5,"color":"black","interpolate":"monotone"},
 "encoding":{"x":{"field":"x","type":"quantitative","scale":{"domain":[0,358],"nice":false,"zero":false},"axis":null},
  "y":{"field":"e","type":"quantitative","scale":{"domain":[-1.1,1.096],"nice":false,"zero":false},"axis":null},
  "detail":{"field":"b"}}},
{"data":{"name":"symB"},
 "mark":{"type":"point","shape":"circle","filled":true,"size":150,"opacity":1},
 "encoding":{"x":{"field":"x","type":"quantitative","scale":{"domain":[0,358],"nice":false,"zero":false},"axis":null},
  "y":{"datum":-1.167,"type":"quantitative","scale":{"domain":[-1.1,1.096],"nice":false,"zero":false},"axis":null},
  "color":{"field":"lab","type":"nominal","scale":{"domain":["R","Γ","X","M"],"range":["#16891a","#e0790e","#8a8a8a","#ffd000"]},"legend":null}}},
{"data":{"name":"symB"},
 "mark":{"type":"text","fontSize":21.5,"baseline":"middle","align":"center"},
 "encoding":{"x":{"field":"x","type":"quantitative","scale":{"domain":[0,358],"nice":false,"zero":false},"axis":null},
  "y":{"datum":-1.276,"type":"quantitative","scale":{"domain":[-1.1,1.096],"nice":false,"zero":false},"axis":null},
  "text":{"field":"lab"},
  "color":{"field":"lab","type":"nominal","scale":{"domain":["R","Γ","X","M"],"range":["#16891a","#e0790e","#8a8a8a","#f2c200"]},"legend":null}}},
{"data":{"values":[{"x":-57,"e":-0.377,"s":"Energy"},{"x":-57,"e":0.177,"s":"(eV)"}]},
 "mark":{"type":"text","angle":270,"align":"left","baseline":"middle","fontSize":21.5,"color":"black"},
 "encoding":{"x":{"field":"x","type":"quantitative","scale":{"domain":[0,358],"nice":false,"zero":false},"axis":null},
  "y":{"field":"e","type":"quantitative","scale":{"domain":[-1.1,1.096],"nice":false,"zero":false},"axis":null},"text":{"field":"s"}}},
{"data":{"values":[{"x":-57,"e":-0.031,"s":"E-E"}]},
 "mark":{"type":"text","angle":270,"align":"left","baseline":"middle","fontSize":21.5,"fontStyle":"italic","color":"black"},
 "encoding":{"x":{"field":"x","type":"quantitative","scale":{"domain":[0,358],"nice":false,"zero":false},"axis":null},
  "y":{"field":"e","type":"quantitative","scale":{"domain":[-1.1,1.096],"nice":false,"zero":false},"axis":null},"text":{"field":"s"}}},
{"data":{"values":[{"x":-51.5,"e":0.115,"s":"F"}]},
 "mark":{"type":"text","angle":270,"align":"left","baseline":"middle","fontSize":14,"color":"black"},
 "encoding":{"x":{"field":"x","type":"quantitative","scale":{"domain":[0,358],"nice":false,"zero":false},"axis":null},
  "y":{"field":"e","type":"quantitative","scale":{"domain":[-1.1,1.096],"nice":false,"zero":false},"axis":null},"text":{"field":"s"}}},
{"data":{"values":[{"x":98.7,"e":-1.372,"s":"Wave vector"}]},
 "mark":{"type":"text","align":"left","baseline":"middle","fontSize":21.5,"color":"black"},
 "encoding":{"x":{"field":"x","type":"quantitative","scale":{"domain":[0,358],"nice":false,"zero":false},"axis":null},
  "y":{"field":"e","type":"quantitative","scale":{"domain":[-1.1,1.096],"nice":false,"zero":false},"axis":null},"text":{"field":"s"}}},
{"data":{"values":[{"x":240.9,"e":-1.372,"s":"k"},{"x":-56,"e":1.109,"s":"b"}]},
 "mark":{"type":"text","align":"left","baseline":"middle","fontSize":21.5,"fontWeight":"bold","color":"black"},
 "encoding":{"x":{"field":"x","type":"quantitative","scale":{"domain":[0,358],"nice":false,"zero":false},"axis":null},
  "y":{"field":"e","type":"quantitative","scale":{"domain":[-1.1,1.096],"nice":false,"zero":false},"axis":null},"text":{"field":"s"}}},
{"data":{"values":[{"x":348.7,"x2":377,"e":0.252,"e2":0.28}]},
 "mark":{"type":"rule","color":"black","strokeWidth":1.5},
 "encoding":{"x":{"field":"x","type":"quantitative","scale":{"domain":[0,358],"nice":false,"zero":false},"axis":null},"x2":{"field":"x2"},
  "y":{"field":"e","type":"quantitative","scale":{"domain":[-1.1,1.096],"nice":false,"zero":false},"axis":null},"y2":{"field":"e2"}}},
{"data":{"values":[{"x":380,"e":0.31,"s":"|"},{"x":434.5,"e":0.31,"s":"| < Λ"}]},
 "mark":{"type":"text","align":"left","baseline":"middle","fontSize":22,"color":"#1d4f9c"},
 "encoding":{"x":{"field":"x","type":"quantitative","scale":{"domain":[0,358],"nice":false,"zero":false},"axis":null},
  "y":{"field":"e","type":"quantitative","scale":{"domain":[-1.1,1.096],"nice":false,"zero":false},"axis":null},"text":{"field":"s"}}},
{"data":{"values":[{"x":387.4,"e":0.31,"s":"E-E"}]},
 "mark":{"type":"text","align":"left","baseline":"middle","fontSize":22,"fontStyle":"italic","color":"#1d4f9c"},
 "encoding":{"x":{"field":"x","type":"quantitative","scale":{"domain":[0,358],"nice":false,"zero":false},"axis":null},
  "y":{"field":"e","type":"quantitative","scale":{"domain":[-1.1,1.096],"nice":false,"zero":false},"axis":null},"text":{"field":"s"}}},
{"data":{"values":[{"x":425,"e":0.285,"s":"F"}]},
 "mark":{"type":"text","align":"left","baseline":"middle","fontSize":15,"color":"#1d4f9c"},
 "encoding":{"x":{"field":"x","type":"quantitative","scale":{"domain":[0,358],"nice":false,"zero":false},"axis":null},
  "y":{"field":"e","type":"quantitative","scale":{"domain":[-1.1,1.096],"nice":false,"zero":false},"axis":null},"text":{"field":"s"}}}
]
}
]
}
